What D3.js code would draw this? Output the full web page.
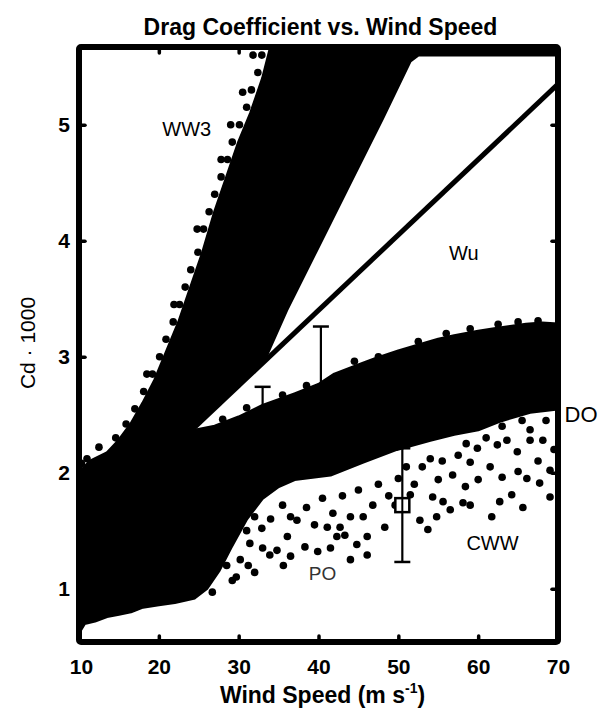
<!DOCTYPE html>
<html><head><meta charset="utf-8">
<script src="https://cdn.jsdelivr.net/npm/d3@7"></script>
<style>
html,body{margin:0;padding:0;background:#fff;}
svg{display:block;}
</style></head>
<body>
<svg id="chart" width="599" height="713"></svg>
<script>
// ---- data ----
const xTicks = [10, 20, 30, 40, 50, 60, 70];
const yTicks = [1, 2, 3, 4, 5];

// outline of the saturated (solid black) point cloud, WW3 + CWW
const cloudSpeed = [9.5, 10, 10.7, 12, 13.5, 15, 16.5, 18, 20, 22, 24.5, 26, 27.5, 29, 31, 33, 35, 37, 41.5, 45.6, 49.8, 54, 57, 60, 63, 66.5, 70, 70.5,
  70.5, 68, 66, 64, 62, 60, 57, 55, 52, 50, 47, 45, 42, 40, 37, 35, 33, 30, 27, 24,
  33.3, 36, 40, 44, 48, 51.5, 52.5, 70.5, 70.5, 34.5,
  34.0, 33.0, 31.5, 30.0, 28.5, 27.0, 25.5, 24.0, 22.5, 21.0, 19.5, 18.0, 16.5, 15.0, 13.5, 11.4, 10, 9.5];
const cloudCd = [0.62, 0.62, 0.70, 0.72, 0.76, 0.78, 0.80, 0.84, 0.86, 0.88, 0.92, 1.0, 1.15, 1.35, 1.6, 1.78, 1.88, 1.94, 1.98, 2.09, 2.2, 2.28, 2.33, 2.37, 2.45, 2.52, 2.55, 2.55,
  3.28, 3.29, 3.28, 3.26, 3.24, 3.22, 3.18, 3.15, 3.09, 3.05, 2.98, 2.93, 2.85, 2.76, 2.68, 2.63, 2.58, 2.48, 2.4, 2.36,
  2.98, 3.4, 3.95, 4.5, 5.05, 5.55, 5.6, 5.6, 5.8, 5.8,
  5.67, 5.4, 5.1, 4.85, 4.55, 4.25, 3.9, 3.6, 3.3, 3.05, 2.8, 2.6, 2.42, 2.28, 2.17, 2.1, 2.0, 2.0];

// individual scattered points at the fringes of the cloud
const dotSpeed = [
  // CWW lower fringe
  45.6, 41.1, 48.3, 36.1, 38.3, 39.9, 42.3, 43.3, 44.8, 46.1, 46.1, 33.9, 34.8, 31.4, 30.2, 32.9, 37.3, 42.7,
  54.8, 56.5, 58.1, 59.0, 55.6, 61.7, 62.7, 65.6, 64.2, 65.0, 66.1, 67.7, 69.0, 69.0, 63.0, 61.5, 60.0, 58.4, 55.0, 54.3,
  59.9, 62.4, 64.9, 66.5, 66.5, 68.1, 63.6, 59.0, 56.8, 51.5, 52.7, 49.6, 53.7,
  26.7, 29.2, 32.0, 35.6,
  31.0, 32.0, 34.0, 35.5, 36.5, 38.5, 39.5, 40.5, 41.8, 43.0, 44.0, 45.0, 46.8, 47.5, 48.8, 50.0, 51.0, 52.0, 53.0, 54.0,
  55.5, 57.5, 58.5, 61.0, 63.0, 65.5, 68.5, 67.5, 69.5,
  28.5, 29.7, 31.2, 33.0, 36.5, 41.5, 44.0,
  // CWW upper edge
  28.0, 31.0, 35.5, 38.5, 44.5, 47.5, 52.5, 56, 59, 62.5, 65, 67.5,
  // WW3 left fringe
  32.9, 31.8, 32.4, 31.6, 30.5, 31.0, 30.1, 29.0, 29.2, 28.6, 27.8, 27.8, 27.0, 26.3, 25.6, 24.8, 24.9, 24.0, 23.3,
  22.6, 21.9, 21.8, 20.9, 20.1, 19.2, 18.5, 18.1, 17.0, 15.9, 14.6, 12.5, 11.0, 10.3];
const dotCd = [
  1.62, 1.53, 1.53, 1.45, 1.36, 1.32, 1.45, 1.46, 1.38, 1.45, 1.29, 1.29, 1.33, 1.39, 1.25, 1.52, 1.59, 1.53,
  1.62, 1.68, 1.74, 1.72, 1.75, 1.62, 1.75, 1.70, 1.81, 2.01, 1.95, 1.91, 2.02, 1.79, 1.96, 2.05, 1.94, 1.88, 1.94, 1.79,
  2.21, 2.24, 2.18, 2.28, 2.37, 2.28, 2.28, 2.09, 1.98, 1.81, 1.59, 1.72, 1.51,
  0.97, 1.07, 1.14, 1.20,
  1.5, 1.62, 1.6, 1.72, 1.62, 1.7, 1.55, 1.78, 1.65, 1.8, 1.62, 1.85, 1.72, 1.9, 1.8, 1.95, 2.05, 1.9, 2.05, 2.12,
  2.1, 2.15, 2.25, 2.3, 2.4, 2.45, 2.45, 2.1, 2.2,
  1.2, 1.1, 1.2, 1.35, 1.28, 1.35, 1.25,
  2.46, 2.56, 2.67, 2.75, 2.96, 3.0, 3.13, 3.2, 3.24, 3.28, 3.3, 3.31,
  5.6, 5.6, 5.45, 5.3, 5.28, 5.15, 5.0, 5.0, 4.85, 4.7, 4.7, 4.55, 4.4, 4.25, 4.1, 4.1, 3.9, 3.75, 3.6,
  3.45, 3.45, 3.3, 3.15, 3.0, 2.85, 2.85, 2.7, 2.55, 2.42, 2.3, 2.22, 2.12, 2.08];

// Wu (1982) linear drag law
const wuSpeed = [10, 70];
const wuCd = [1.45, 5.35];

// observation error bars
const errSpeed = [33, 40.3, 50.5];
const errMean = [2.45, 2.6, 1.72];
const errLow = [2.16, 2.05, 1.23];
const errHigh = [2.74, 3.26, 2.21];

// labels inside the chart
const noteText = ["WW3", "Wu", "CWW", "PO"];
const noteSpeed = [23.5, 58.2, 61.8, 40.5];
const noteCd = [4.95, 3.88, 1.38, 1.12];

// ---- drawing ----
const svg = d3.select("#chart");
const L = 79, R = 558, T = 47, B = 642;
const x = d3.scaleLinear().domain([10, 70]).range([L, R]);
const y = d3.scaleLinear().domain([0.54, 5.67]).range([B, T]);

svg.append("defs").append("clipPath").attr("id", "clip")
  .append("rect").attr("x", L).attr("y", T).attr("width", R - L).attr("height", B - T);

const g = svg.append("g").attr("clip-path", "url(#clip)");

const cloud = cloudSpeed.map((s, i) => [s, cloudCd[i]]);
g.append("path")
  .attr("d", d3.line().x(d => x(d[0])).y(d => y(d[1])).curve(d3.curveLinearClosed)(cloud))
  .attr("fill", "#000").attr("stroke", "#000").attr("stroke-width", 3).attr("stroke-linejoin", "round");

g.selectAll("circle.dot").data(dotSpeed.map((s, i) => [s, dotCd[i]])).enter()
  .append("circle").attr("class", "dot")
  .attr("cx", d => x(d[0])).attr("cy", d => y(d[1])).attr("r", 3.8).attr("fill", "#000");

g.append("path")
  .attr("d", d3.line().x((d, i) => x(wuSpeed[i])).y((d, i) => y(wuCd[i]))(wuSpeed))
  .attr("stroke", "#000").attr("stroke-width", 5).attr("fill", "none");

// error bars
errSpeed.forEach((s, i) => {
  const cx = x(s);
  g.append("line").attr("x1", cx).attr("x2", cx).attr("y1", y(errLow[i])).attr("y2", y(errHigh[i]))
    .attr("stroke", "#000").attr("stroke-width", 2.2);
  [errLow[i], errHigh[i]].forEach(v => {
    g.append("line").attr("x1", cx - 8).attr("x2", cx + 8).attr("y1", y(v)).attr("y2", y(v))
      .attr("stroke", "#000").attr("stroke-width", 2.5);
  });
  g.append("rect").attr("x", cx - 7).attr("y", y(errMean[i]) - 7).attr("width", 14).attr("height", 14)
    .attr("fill", "#fff").attr("stroke", "#000").attr("stroke-width", 2.5);
  g.append("line").attr("x1", cx).attr("x2", cx).attr("y1", y(errMean[i]) - 7).attr("y2", y(errMean[i]) + 7)
    .attr("stroke", "#000").attr("stroke-width", 2);
});
// means hidden inside the saturated cloud in the picture
g.selectAll("rect.hide").data([0, 1]).enter().append("rect")
  .attr("x", i => x(errSpeed[i]) - 9).attr("y", i => y(errMean[i]) - 9)
  .attr("width", 18).attr("height", 18).attr("fill", "#000");

// axes
const font = "'Liberation Sans', Arial, Helvetica, sans-serif";
const xAxis = svg.append("g").attr("transform", `translate(0,${B})`)
  .call(d3.axisBottom(x).tickValues(xTicks).tickSize(-6).tickPadding(17).tickFormat(d3.format("d")));
const xAxisTop = svg.append("g").attr("transform", `translate(0,${T})`)
  .call(d3.axisTop(x).tickValues(xTicks.slice(1, -1)).tickSize(-6).tickFormat(""));
const yAxis = svg.append("g").attr("transform", `translate(${L},0)`)
  .call(d3.axisLeft(y).tickValues(yTicks).tickSize(-6).tickPadding(9).tickFormat(d3.format("d")));
const yAxisR = svg.append("g").attr("transform", `translate(${R},0)`)
  .call(d3.axisRight(y).tickValues(yTicks).tickSize(-6).tickFormat(""));
[xAxis, xAxisTop, yAxis, yAxisR].forEach(a => {
  a.select(".domain").remove();
  a.selectAll(".tick line").attr("stroke", "#000").attr("stroke-width", 3.5).attr("stroke-linecap", "round");
  a.selectAll(".tick text").attr("fill", "#000").style("font-family", font)
    .style("font-size", "21px").style("font-weight", "bold");
});
xAxis.selectAll(".tick text").filter(d => d === 10).attr("dx", "2");

svg.append("rect").attr("x", L).attr("y", T).attr("width", R - L).attr("height", B - T)
  .attr("fill", "none").attr("stroke", "#000").attr("stroke-width", 6).attr("rx", 2);

// titles
svg.append("text").attr("x", (L + R) / 2 + 2).attr("y", 35).attr("text-anchor", "middle")
  .style("font-family", font).style("font-size", "23px").style("font-weight", "bold")
  .text("Drag Coefficient vs. Wind Speed");

const xl = svg.append("text").attr("x", (L + R) / 2 + 4).attr("y", 703).attr("text-anchor", "middle")
  .style("font-family", font).style("font-size", "23px").style("font-weight", "bold");
xl.append("tspan").text("Wind Speed (m s");
xl.append("tspan").attr("dy", -10).style("font-size", "14px").text("-1");
xl.append("tspan").attr("dy", 10).text(")");

svg.append("text").attr("transform", "translate(35,343) rotate(-90)").attr("text-anchor", "middle")
  .style("font-family", font).style("font-size", "21px")
  .text("Cd \u00b7 1000");

// in-chart labels
noteText.forEach((t, i) => {
  svg.append("text").attr("x", x(noteSpeed[i])).attr("y", y(noteCd[i]))
    .attr("text-anchor", "middle").attr("dominant-baseline", "middle")
    .style("font-family", font)
    .style("font-size", t === "PO" ? "19px" : "20px")
    .attr("fill", t === "PO" ? "#333" : "#000")
    .text(t);
});
svg.append("text").attr("x", 581).attr("y", 416).attr("text-anchor", "middle").attr("dominant-baseline", "middle")
  .style("font-family", font).style("font-size", "22px").text("DO");
</script>
</body></html>
